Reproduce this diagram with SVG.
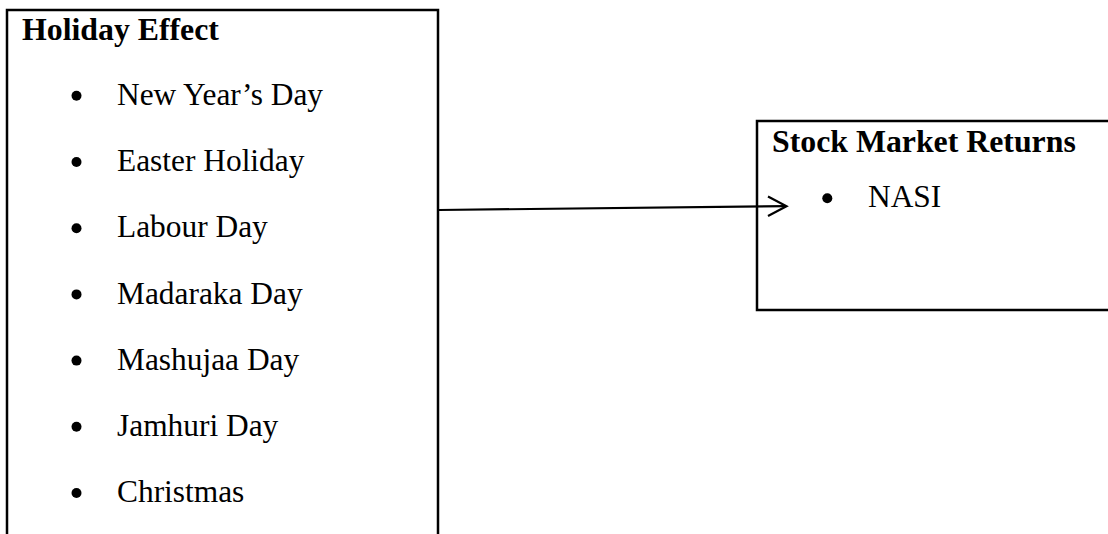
<svg xmlns="http://www.w3.org/2000/svg" width="1108" height="534" viewBox="0 0 1108 534">
<style>
.box{fill:none;stroke:#000;stroke-width:2.5}
.h{font-family:"Liberation Serif","Times New Roman",serif;font-weight:bold;font-size:31.8px;fill:#000}
.t{font-family:"Liberation Serif","Times New Roman",serif;font-size:31.4px;fill:#000}
.b{fill:#000}
.c{fill:none;stroke:#000;stroke-width:2.2}
</style>
<rect width="1108" height="534" fill="#fff"/>
<g id="holiday-effect">
<path class="box" d="M7,540 V10 H438 V540"/>
<text class="h" x="22" y="39.5">Holiday Effect</text>
<circle class="b" cx="76.5" cy="95.8" r="5"/><text class="t" x="117" y="105">New Year’s Day</text>
<circle class="b" cx="76.5" cy="162" r="5"/><text class="t" x="117" y="171.2">Easter Holiday</text>
<circle class="b" cx="76.5" cy="228.2" r="5"/><text class="t" x="117" y="237.4">Labour Day</text>
<circle class="b" cx="76.5" cy="294.4" r="5"/><text class="t" x="117" y="303.6">Madaraka Day</text>
<circle class="b" cx="76.5" cy="360.6" r="5"/><text class="t" x="117" y="369.8">Mashujaa Day</text>
<circle class="b" cx="76.5" cy="426.8" r="5"/><text class="t" x="117" y="436">Jamhuri Day</text>
<circle class="b" cx="76.5" cy="493" r="5"/><text class="t" x="117" y="502.2">Christmas</text>
</g>
<g id="stock-market-returns">
<path class="box" d="M1115,121 H757 V310 H1115"/>
<text class="h" x="772" y="152">Stock Market Returns</text>
<circle class="b" cx="827.3" cy="198.3" r="5"/><text class="t" x="868" y="207">NASI</text>
</g>
<g id="connectors">
<path class="c" d="M439,210 L785,206.2"/>
<path class="c" d="M768,196.5 L786.5,206.2 L768,216"/>
</g>
</svg>
